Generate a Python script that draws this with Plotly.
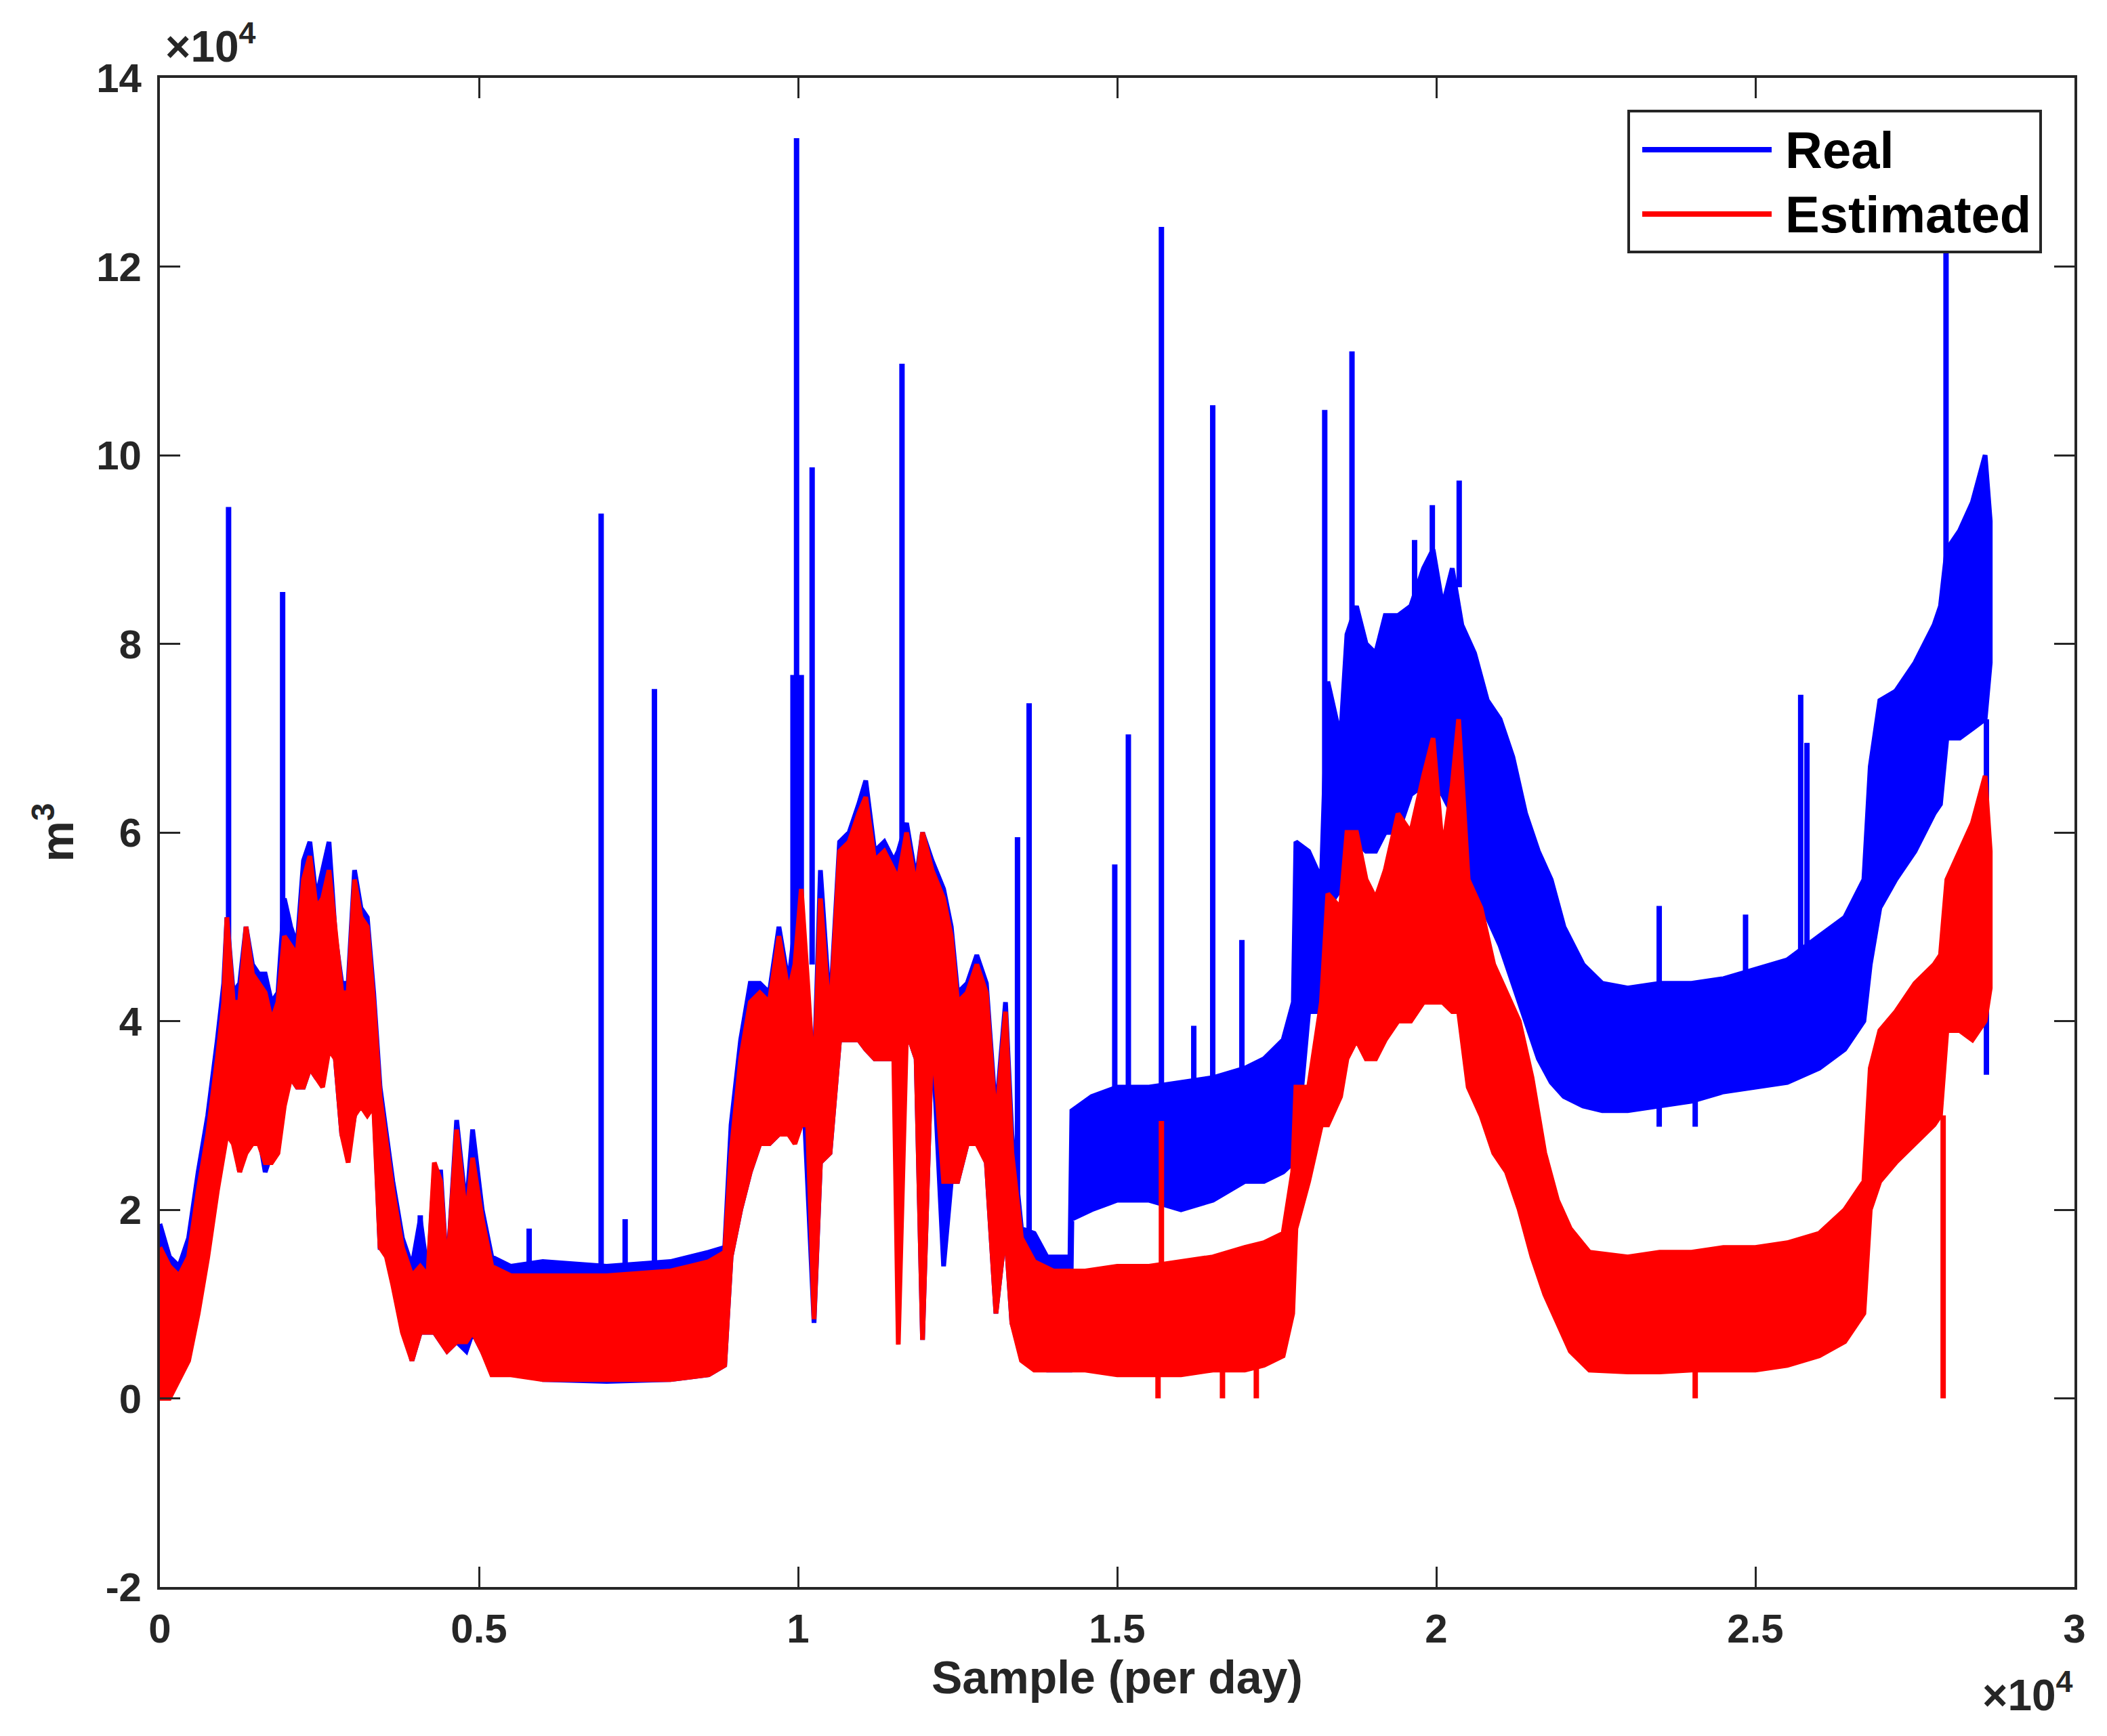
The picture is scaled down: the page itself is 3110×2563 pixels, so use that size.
import plotly.graph_objects as go

# ---------------- data (sample index; values in units of 10^4 m^3) ----------------
# Real (blue): envelope of the dense daily signal
real_x = [0, 150, 300, 450, 600, 750, 900, 1000, 1050, 1150, 1250, 1350, 1450, 1550, 1650, 1750,
          1850, 1950, 2050, 2150, 2250, 2350, 2450, 2550, 2650, 2750, 2850, 2950, 3050, 3150,
          3250, 3350, 3450, 3550, 3650, 3800, 3950, 4080, 4200, 4300, 4400, 4500, 4650, 4800,
          4900, 5050, 5200, 5500, 6000, 7000, 8000, 8600, 8850, 8950, 9100, 9250, 9400, 9550,
          9700, 9850, 9950, 10100, 10250, 10350, 10500, 10650, 10800, 10950, 11060, 11200,
          11350, 11500, 11570, 11700, 11850, 11950, 12100, 12280, 12400, 12500, 12650, 12800,
          12950, 13100, 13250, 13350, 13500, 13700, 13900, 14260, 14290, 14600, 15000, 15500,
          16000, 16500, 17000, 17300, 17600, 17760, 17800, 18000, 18200, 18300, 18500, 18600,
          18750, 18900, 19050, 19200, 19400, 19600, 19800, 19950, 20100, 20250, 20400, 20600,
          20800, 21000, 21200, 21400, 21600, 21800, 22000, 22300, 22600, 23000, 23500, 24000,
          24500, 25000, 25500, 26000, 26400, 26700, 26800, 26950, 27200, 27500, 27800, 27900,
          28000, 28200, 28400, 28600, 28680]
real_lo = [0.3, 0.2, 0.3, 0.5, 1.0, 1.6, 2.3, 2.7, 2.9, 2.8, 2.4, 2.7, 2.8, 2.8, 2.4, 2.6,
           2.7, 3.2, 3.4, 3.3, 3.3, 3.5, 3.4, 3.4, 3.8, 3.6, 2.8, 2.6, 3.0, 3.2,
           3.0, 3.2, 1.6, 1.6, 1.3, 0.8, 0.4, 0.7, 0.7, 0.7, 0.6, 0.5, 0.6, 0.5,
           0.7, 0.5, 0.3, 0.3, 0.2, 0.18, 0.2, 0.25, 0.35, 1.5, 2.0, 2.4, 2.7, 2.7,
           2.8, 2.85, 2.8, 3.0, 0.8, 2.5, 2.6, 3.8, 3.8, 3.8, 3.7, 3.6,
           3.6, 3.6, 2.6, 3.9, 3.6, 0.62, 3.9, 1.4, 2.3, 2.3, 2.7, 2.8,
           2.5, 0.9, 1.8, 0.8, 0.5, 0.35, 0.3, 0.3, 1.9, 2.0, 2.1, 2.1,
           2.0, 2.1, 2.3, 2.3, 2.4, 2.5, 2.6, 4.1, 4.1, 5.2, 5.4, 5.8,
           5.9, 5.8, 5.8, 6.0, 6.0, 6.4, 6.5, 6.5, 6.4, 6.2, 5.8, 5.4,
           5.1, 4.8, 4.4, 4.0, 3.6, 3.35, 3.2, 3.1, 3.05, 3.05, 3.1, 3.15,
           3.25, 3.3, 3.35, 3.5, 3.7, 4.0, 4.6, 5.2, 5.5, 5.8, 6.2, 6.3,
           7.0, 7.0, 7.1, 7.2, 7.8]
real_hi = [1.85, 1.5, 1.4, 1.7, 2.4, 3.0, 3.8, 4.4, 5.1, 4.3, 4.4, 5.0, 4.6, 4.5, 4.5, 4.2,
           4.3, 5.3, 5.0, 4.8, 5.7, 5.9, 5.3, 5.6, 5.9, 4.9, 4.4, 4.4, 5.6, 5.2,
           5.1, 4.3, 3.3, 2.8, 2.3, 1.7, 1.4, 1.9, 1.3, 2.4, 2.4, 1.3, 2.95, 2.0,
           2.85, 2.0, 1.5, 1.4, 1.45, 1.4, 1.45, 1.55, 1.6, 2.9, 3.8, 4.4, 4.4, 4.3,
           5.0, 4.4, 5.0, 4.7, 3.4, 5.6, 4.1, 5.9, 6.0, 6.3, 6.55, 5.8,
           5.9, 5.7, 5.8, 6.1, 5.5, 6.0, 5.7, 5.4, 5.0, 4.3, 4.4, 4.7,
           4.4, 3.0, 4.2, 2.8, 1.8, 1.75, 1.5, 1.5, 3.05, 3.2, 3.3, 3.3,
           3.35, 3.4, 3.5, 3.6, 3.8, 4.2, 5.9, 5.8, 5.5, 7.6, 7.0, 8.1,
           8.4, 8.0, 7.9, 8.3, 8.3, 8.4, 8.8, 9.0, 8.4, 8.8, 8.2, 7.9,
           7.4, 7.2, 6.8, 6.2, 5.8, 5.5, 5.0, 4.6, 4.4, 4.35, 4.4, 4.4,
           4.45, 4.55, 4.65, 4.9, 5.1, 5.5, 6.7, 7.4, 7.5, 7.8, 8.2, 8.4,
           9.0, 9.2, 9.5, 10.0, 9.3]
# Real: isolated spikes (sample, start value, end value)
real_spike_x = [1076, 1923, 4080, 5786, 6914, 7290, 7749, 9920, 9976, 10050, 10220, 11628,
                13438, 13620, 14962, 15175, 15693, 16200, 16497, 16954, 18252, 18679,
                19660, 19938, 20359,
                23493, 23493, 24057, 24846, 25710, 25808, 27987, 28620]
real_spike_from = [4.5, 4.3, 1.3, 1.4, 1.4, 1.4, 1.4, 4.4, 4.5, 4.6, 4.6, 5.8,
                   1.7, 1.7, 3.3, 3.3, 3.3, 3.35, 3.4, 3.5, 5.5, 8.0,
                   8.4, 8.8, 8.6,
                   4.4, 3.1, 3.15, 4.4, 4.6, 4.6, 8.3, 7.2]
real_spike_to = [9.45, 8.55, 1.94, 1.8, 9.38, 1.9, 7.52, 7.67, 13.36, 7.67, 9.87, 10.97,
                 5.95, 7.37, 5.66, 7.04, 12.42, 3.95, 10.53, 4.86, 10.48, 11.1,
                 9.1, 9.47, 9.73,
                 5.22, 2.88, 2.88, 5.13, 7.46, 6.95, 12.2, 3.43]

# Estimated (red): envelope
est_x = [0, 150, 300, 450, 600, 750, 900, 1000, 1050, 1150, 1250, 1350, 1450, 1550, 1650, 1750,
         1850, 1950, 2050, 2150, 2250, 2350, 2450, 2550, 2650, 2750, 2850, 2950, 3050, 3150,
         3250, 3350, 3450, 3550, 3650, 3800, 3950, 4080, 4200, 4300, 4400, 4500, 4650, 4800,
         4900, 5050, 5200, 5500, 6000, 7000, 8000, 8600, 8850, 8950, 9100, 9250, 9400, 9550,
         9700, 9850, 9950, 10050, 10150, 10250, 10350, 10500, 10650, 10800, 10950, 11060,
         11200, 11350, 11500, 11570, 11700, 11850, 11950, 12100, 12280, 12400, 12500, 12650,
         12800, 12950, 13100, 13250, 13350, 13500, 13700, 14000, 14500, 15000, 15500, 16000,
         16500, 17000, 17300, 17600, 17750, 17800, 18000, 18200, 18300, 18500, 18600, 18750,
         18900, 19050, 19200, 19400, 19600, 19800, 19950, 20100, 20250, 20350, 20500, 20700,
         20900, 21100, 21300, 21500, 21700, 21900, 22100, 22400, 23000, 23500, 24000, 24500,
         25000, 25500, 26000, 26400, 26700, 26800, 26950, 27200, 27500, 27800, 27900, 28000,
         28200, 28400, 28600, 28680]
est_lo = [0.0, 0.0, 0.2, 0.4, 0.9, 1.5, 2.2, 2.6, 2.8, 2.7, 2.4, 2.6, 2.7, 2.7, 2.5, 2.5,
          2.6, 3.1, 3.4, 3.3, 3.3, 3.5, 3.4, 3.3, 3.7, 3.6, 2.8, 2.5, 3.0, 3.1,
          3.0, 3.1, 1.6, 1.5, 1.2, 0.7, 0.4, 0.7, 0.7, 0.7, 0.6, 0.5, 0.6, 0.6,
          0.7, 0.5, 0.25, 0.25, 0.2, 0.2, 0.2, 0.25, 0.35, 1.5, 2.0, 2.4, 2.7, 2.7,
          2.8, 2.8, 2.7, 2.9, 2.9, 0.84, 2.5, 2.6, 3.8, 3.8, 3.8, 3.7,
          3.6, 3.6, 3.6, 0.57, 3.9, 3.6, 0.62, 3.9, 2.3, 2.3, 2.3, 2.7,
          2.7, 2.5, 0.9, 1.8, 0.8, 0.4, 0.3, 0.3, 0.3, 0.25, 0.25, 0.25,
          0.3, 0.3, 0.35, 0.45, 0.9, 1.8, 2.3, 2.9, 2.9, 3.2, 3.6, 3.8,
          3.6, 3.6, 3.8, 4.0, 4.0, 4.2, 4.2, 4.2, 4.1, 4.1, 3.3, 3.0,
          2.6, 2.4, 2.0, 1.5, 1.1, 0.8, 0.5, 0.3, 0.28, 0.28, 0.3, 0.3,
          0.3, 0.35, 0.45, 0.6, 0.9, 2.0, 2.3, 2.5, 2.7, 2.9, 3.0, 3.9,
          3.9, 3.8, 4.0, 4.35]
est_hi = [1.6, 1.4, 1.3, 1.5, 2.2, 2.8, 3.6, 4.2, 5.1, 4.2, 4.2, 5.0, 4.5, 4.4, 4.3, 4.0,
          4.2, 4.9, 4.8, 4.7, 5.5, 5.75, 5.2, 5.3, 5.6, 4.9, 4.3, 4.3, 5.5, 5.1,
          5.0, 4.2, 3.2, 2.7, 2.2, 1.6, 1.3, 1.4, 1.3, 2.5, 2.3, 1.3, 2.85, 1.9,
          2.55, 1.9, 1.4, 1.3, 1.3, 1.3, 1.35, 1.45, 1.55, 2.6, 3.6, 4.2, 4.3, 4.2,
          4.9, 4.3, 4.6, 5.4, 4.4, 3.3, 5.3, 4.0, 5.8, 5.9, 6.2, 6.375,
          5.7, 5.8, 5.6, 5.5, 6.0, 5.4, 6.0, 5.6, 5.3, 4.9, 4.2, 4.3,
          4.6, 4.3, 2.9, 4.1, 2.6, 1.7, 1.45, 1.35, 1.35, 1.4, 1.4, 1.45,
          1.5, 1.6, 1.65, 1.75, 2.4, 3.3, 3.3, 4.2, 5.35, 5.2, 6.0, 6.0,
          5.5, 5.3, 5.6, 6.2, 6.0, 6.6, 7.0, 5.8, 6.5, 7.2, 5.5, 5.2,
          4.6, 4.3, 4.0, 3.4, 2.6, 2.1, 1.8, 1.55, 1.5, 1.55, 1.55, 1.6,
          1.6, 1.65, 1.75, 2.0, 2.3, 3.5, 3.9, 4.1, 4.4, 4.6, 4.7, 5.5,
          5.8, 6.1, 6.6, 5.8]
# Estimated: isolated spikes (sample, start value, end value)
est_spike_x = [15693, 15640, 16650, 17180, 24057, 27942]
est_spike_from = [1.4, 0.3, 0.3, 0.35, 0.3, 3.0]
est_spike_to = [2.94, 0.0, 0.0, 0.0, 0.0, 0.0]

x_tick_vals = [0, 5000, 10000, 15000, 20000, 25000, 30000]
x_tick_text = ["0", "0.5", "1", "1.5", "2", "2.5", "3"]
y_tick_vals = [-2, 0, 2, 4, 6, 8, 10, 12, 14]
y_tick_text = ["-2", "0", "2", "4", "6", "8", "10", "12", "14"]

series_names = ["Real", "Estimated"]
series_colors = ["#0000FF", "#FF0000"]

# ---------------- figure ----------------
fig = go.Figure()


def add_series(xs, lo, hi, sx, sfrom, sto, color, name):
    fig.add_trace(go.Scatter(
        x=list(xs) + list(xs)[::-1], y=list(hi) + list(lo)[::-1],
        mode="lines", fill="toself", fillcolor=color,
        line=dict(color=color, width=7), name=name, showlegend=False,
        hoverinfo="skip"))
    px, py = [], []
    for a, b, c in zip(sx, sfrom, sto):
        px += [a, a, None]
        py += [b, c, None]
    fig.add_trace(go.Scatter(x=px, y=py, mode="lines",
                             line=dict(color=color, width=8),
                             showlegend=False, hoverinfo="skip"))


add_series(real_x, real_lo, real_hi, real_spike_x, real_spike_from, real_spike_to,
           series_colors[0], series_names[0])
add_series(est_x, est_lo, est_hi, est_spike_x, est_spike_from, est_spike_to,
           series_colors[1], series_names[1])

axis_col = "#262626"
tick_font = dict(family="Liberation Sans", size=60, color=axis_col, weight="bold")

fig.update_xaxes(range=[0, 30000], tickvals=x_tick_vals, ticktext=x_tick_text,
                 ticks="inside", ticklen=30, tickwidth=3, tickcolor=axis_col,
                 showline=True, linewidth=4, linecolor=axis_col, mirror="ticks",
                 showgrid=False, zeroline=False, tickfont=tick_font,
                 ticklabelstandoff=6,
                 title=dict(text="Sample (per day)", standoff=14,
                            font=dict(family="Liberation Sans", size=68,
                                      color=axis_col, weight="bold")))
fig.update_yaxes(range=[-2, 14], tickvals=y_tick_vals, ticktext=y_tick_text,
                 ticks="inside", ticklen=30, tickwidth=3, tickcolor=axis_col,
                 showline=True, linewidth=4, linecolor=axis_col, mirror="ticks",
                 showgrid=False, zeroline=False, tickfont=tick_font,
                 ticklabelstandoff=11,
                 title=dict(text="m<sup>3</sup>", standoff=12,
                            font=dict(family="Liberation Sans", size=68,
                                      color=axis_col, weight="bold")))

# MATLAB-style legend box (top right)
leg_x0, leg_x1, leg_y0, leg_y1 = 2404, 3012, 164, 372
W, H = 3110, 2563
L, R, T, B = 236, 48, 115, 220
pw, ph = W - L - R, H - T - B


def px2paper(x, y):
    return (x - L) / pw, 1 - (y - T) / ph


shapes = []
a0 = px2paper(leg_x0, leg_y0)
a1 = px2paper(leg_x1, leg_y1)
shapes.append(dict(type="rect", xref="paper", yref="paper", x0=a0[0], y0=a1[1], x1=a1[0], y1=a0[1],
                   line=dict(color=axis_col, width=4), fillcolor="white", layer="above"))
annots = []
for name, color, ly in zip(series_names, series_colors, [221, 316]):
    p0 = px2paper(2424, ly)
    p1 = px2paper(2615, ly)
    shapes.append(dict(type="line", xref="paper", yref="paper", x0=p0[0], y0=p0[1], x1=p1[0], y1=p1[1],
                       line=dict(color=color, width=8), layer="above"))
    pt = px2paper(2633, ly)
    annots.append(dict(xref="paper", yref="paper", x=pt[0], y=pt[1], text=name, showarrow=False,
                       xanchor="left", yanchor="middle",
                       font=dict(family="Liberation Sans", size=76, color="black", weight="bold")))

# exponent labels
exp_font = dict(family="Liberation Sans", size=64, color=axis_col, weight="bold")
annots.append(dict(xref="paper", yref="paper", x=0, y=1, xshift=6, yshift=8, text="×10<sup>4</sup>",
                   showarrow=False, xanchor="left", yanchor="bottom", font=exp_font))
annots.append(dict(xref="paper", yref="paper", x=1, y=0, yshift=-112, text="×10<sup>4</sup>",
                   showarrow=False, xanchor="right", yanchor="top", font=exp_font))

fig.update_layout(width=W, height=H, margin=dict(l=L, r=R, t=T, b=B, autoexpand=False),
                  paper_bgcolor="white", plot_bgcolor="white",
                  showlegend=False, shapes=shapes, annotations=annots)

fig.write_html("out.html", config={"displayModeBar": False},
               post_script="document.body.style.margin='0';document.body.style.overflow='hidden';")
